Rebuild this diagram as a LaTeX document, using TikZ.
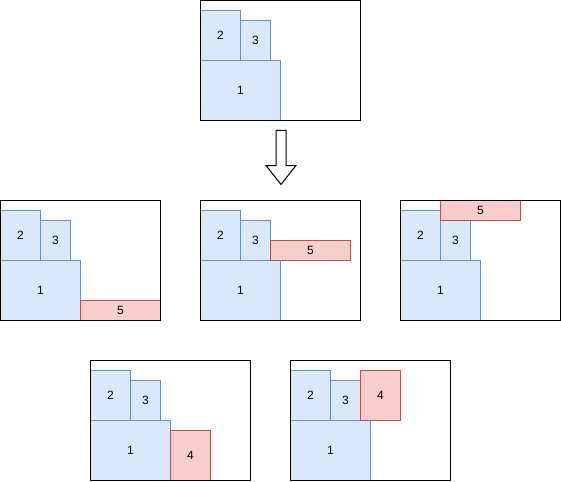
\documentclass[tikz,border=0pt]{standalone}
\usepackage{fontspec}
\setmainfont{Liberation Sans}
\definecolor{bfill}{HTML}{DAE8FC}
\definecolor{bdraw}{HTML}{6C8EBF}
\definecolor{rfill}{HTML}{F8CECC}
\definecolor{rdraw}{HTML}{B85450}
\tikzset{
  boxbase/.style={rectangle, anchor=north west, inner sep=0pt, outer sep=0pt, line width=1pt, font=\fontsize{12}{14}\selectfont},
  bluebox/.style={boxbase, fill=bfill, draw=bdraw},
  redbox/.style={boxbase, fill=rfill, draw=rdraw},
  framebox/.style={rectangle, anchor=north west, inner sep=0pt, outer sep=0pt, draw=black, line width=1pt},
  blockarrow/.style={draw=black, fill=white, line width=1pt, line join=miter}
}
% \bx{style}{name}{x}{y}{w}{h}{label}
\newcommand{\bx}[7]{\node[#1, minimum width=#5pt, minimum height=#6pt] (#2) at (#3,#4) {#7};}
\newcommand{\fr}[3]{\node[framebox, minimum width=160pt, minimum height=120pt] (#1) at (#2,#3) {};}
\begin{document}
\begin{tikzpicture}[x=1pt,y=-1pt]
\useasboundingbox (0,0) rectangle (561,481);
% top panel
\bx{bluebox}{t2}{200.5}{10.5}{40}{50}{2}
\bx{bluebox}{t3}{240.5}{20.5}{30}{40}{3}
\bx{bluebox}{t1}{200.5}{60.5}{80}{60}{1}
\fr{tf}{200.5}{0.5}
% arrow
\draw[blockarrow] (276,130.5) -- (286,130.5) -- (286,165.5) -- (296,165.5) -- (281,184.5) -- (266,165.5) -- (276,165.5) -- cycle;
% middle row, left
\bx{bluebox}{a2}{0.5}{210.5}{40}{50}{2}
\bx{bluebox}{a3}{40.5}{220.5}{30}{40}{3}
\bx{bluebox}{a1}{0.5}{260.5}{80}{60}{1}
\bx{redbox}{a5}{80.5}{300.5}{80}{20}{5}
\fr{af}{0.5}{200.5}
% middle row, centre
\bx{bluebox}{b2}{200.5}{210.5}{40}{50}{2}
\bx{bluebox}{b3}{240.5}{220.5}{30}{40}{3}
\bx{bluebox}{b1}{200.5}{260.5}{80}{60}{1}
\bx{redbox}{b5}{270.5}{240.5}{80}{20}{5}
\fr{bf}{200.5}{200.5}
% middle row, right
\bx{bluebox}{c2}{400.5}{210.5}{40}{50}{2}
\bx{bluebox}{c3}{440.5}{220.5}{30}{40}{3}
\bx{bluebox}{c1}{400.5}{260.5}{80}{60}{1}
\bx{redbox}{c5}{440.5}{200.5}{80}{20}{5}
\fr{cf}{400.5}{200.5}
% bottom row, left
\bx{bluebox}{d2}{90.5}{370.5}{40}{50}{2}
\bx{bluebox}{d3}{130.5}{380.5}{30}{40}{3}
\bx{bluebox}{d1}{90.5}{420.5}{80}{60}{1}
\bx{redbox}{d4}{170.5}{430.5}{40}{50}{4}
\fr{df}{90.5}{360.5}
% bottom row, right
\bx{bluebox}{e2}{290.5}{370.5}{40}{50}{2}
\bx{bluebox}{e3}{330.5}{380.5}{30}{40}{3}
\bx{bluebox}{e1}{290.5}{420.5}{80}{60}{1}
\bx{redbox}{e4}{360.5}{370.5}{40}{50}{4}
\fr{ef}{290.5}{360.5}
\end{tikzpicture}
\end{document}
